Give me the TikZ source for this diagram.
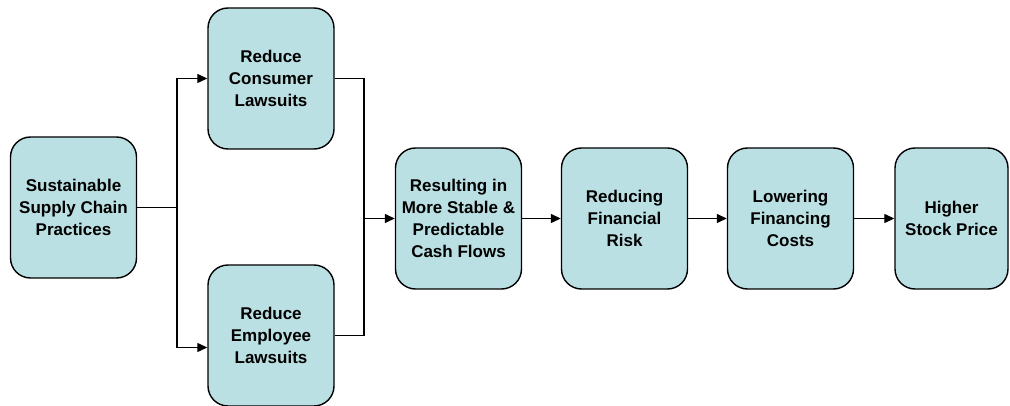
\documentclass[tikz,border=0pt]{standalone}
\usepackage{fontspec}
\setmainfont{Liberation Sans}
\usetikzlibrary{arrows.meta}
\definecolor{boxfill}{RGB}{187,224,227}
\tikzset{
  stage/.style={draw, line width=1.4pt, fill=boxfill, rounded corners=20pt,
    minimum width=126pt, minimum height=141pt, inner sep=0pt, align=center,
    font=\bfseries\fontsize{17}{22}\selectfont},
  link/.style={line width=1.3pt},
  flow/.style={link, -{Triangle[length=10pt,width=9pt]}}
}
\begin{document}
\begin{tikzpicture}[x=1pt, y=-1pt]
  \useasboundingbox (0,0) rectangle (1010,406);
  \node [stage] (supply)   at (73.5,207.5) {Sustainable\\Supply Chain\\Practices};
  \node [stage] (consumer) at (271,78.5)   {Reduce\\Consumer\\Lawsuits};
  \node [stage] (employee) at (271,335.5)  {Reduce\\Employee\\Lawsuits};
  \node [stage] (cash)     at (458.5,218.5) {Resulting in\\More Stable \&\\Predictable\\Cash Flows};
  \node [stage] (risk)     at (624.5,218.5) {Reducing\\Financial\\Risk};
  \node [stage] (costs)    at (790.5,218.5) {Lowering\\Financing\\Costs};
  \node [stage, minimum width=113pt] (price) at (951.5,218.5) {Higher\\Stock Price};
  \coordinate (split) at (177,207.5);
  \coordinate (join)  at (364,218.5);
  % branch out
  \draw [link] (supply.east) -- (split);
  \draw [flow] (split) |- (consumer.west);
  \draw [flow] (split) |- ([yshift=-12pt]employee.west);
  % branch in
  \draw [link] (consumer.east) -| (join);
  \draw [link] (employee.east) -| (join);
  \draw [flow] (join) -- (cash.west);
  % main chain
  \draw [flow] (cash) -- (risk);
  \draw [flow] (risk) -- (costs);
  \draw [flow] (costs) -- (price);
\end{tikzpicture}
\end{document}
